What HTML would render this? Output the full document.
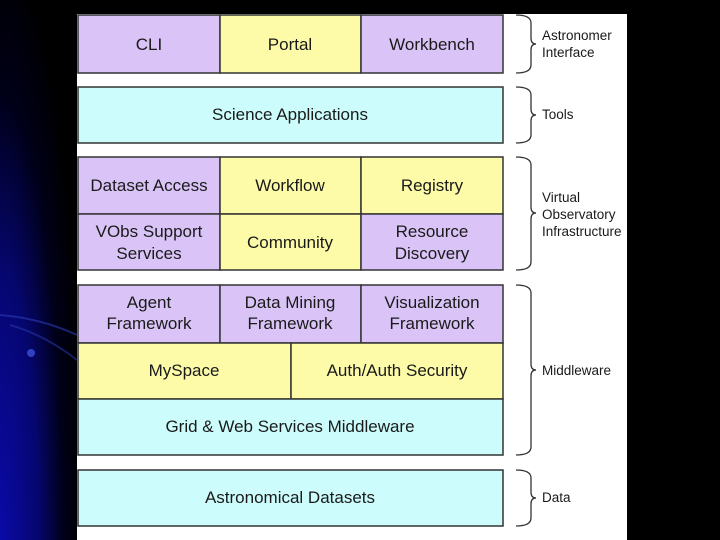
<!DOCTYPE html>
<html><head><meta charset="utf-8"><style>
html,body{margin:0;padding:0;width:720px;height:540px;overflow:hidden;background:#000}
</style></head><body>
<svg width="720" height="540" xmlns="http://www.w3.org/2000/svg" font-family="Liberation Sans, sans-serif">
<defs>
<radialGradient id="bg" cx="0" cy="1" r="1.1">
<stop offset="0" stop-color="#0a0aa8"/>
<stop offset="0.45" stop-color="#060670"/>
<stop offset="0.75" stop-color="#000018"/>
<stop offset="1" stop-color="#000"/>
</radialGradient>
</defs>
<rect x="0" y="0" width="77" height="540" fill="url(#bg)"/>
<path d="M0,315 Q40,318 77,335" stroke="#2a3ab0" stroke-width="2" fill="none" opacity="0.6"/>
<path d="M10,325 Q45,335 77,360" stroke="#2a3ab0" stroke-width="2" fill="none" opacity="0.5"/>
<circle cx="31" cy="353" r="4" fill="#3040c0"/>
<rect x="77" y="14" width="550" height="526" fill="#fff"/>
<g stroke="#333" stroke-width="1.5">
<rect x="78" y="15" width="142" height="58" fill="#dac4f7"/>
<rect x="220" y="15" width="141" height="58" fill="#fdfba8"/>
<rect x="361" y="15" width="142" height="58" fill="#dac4f7"/>
<rect x="78" y="87" width="425" height="56" fill="#ccfcfc"/>
<rect x="78" y="157" width="142" height="57" fill="#dac4f7"/>
<rect x="220" y="157" width="141" height="57" fill="#fdfba8"/>
<rect x="361" y="157" width="142" height="57" fill="#fdfba8"/>
<rect x="78" y="214" width="142" height="56" fill="#dac4f7"/>
<rect x="220" y="214" width="141" height="56" fill="#fdfba8"/>
<rect x="361" y="214" width="142" height="56" fill="#dac4f7"/>
<rect x="78" y="285" width="142" height="58" fill="#dac4f7"/>
<rect x="220" y="285" width="141" height="58" fill="#dac4f7"/>
<rect x="361" y="285" width="142" height="58" fill="#dac4f7"/>
<rect x="78" y="343" width="213" height="56" fill="#fdfba8"/>
<rect x="291" y="343" width="212" height="56" fill="#fdfba8"/>
<rect x="78" y="399" width="425" height="56" fill="#ccfcfc"/>
<rect x="78" y="470" width="425" height="56" fill="#ccfcfc"/>
</g>
<g font-size="17" fill="#1a1a1a" text-anchor="middle">
<text x="149" y="50">CLI</text>
<text x="290" y="50">Portal</text>
<text x="432" y="50">Workbench</text>
<text x="290" y="120">Science Applications</text>
<text x="149" y="191">Dataset Access</text>
<text x="290" y="191">Workflow</text>
<text x="432" y="191">Registry</text>
<text x="149" y="237">VObs  Support</text>
<text x="149" y="259">Services</text>
<text x="290" y="248">Community</text>
<text x="432" y="237">Resource</text>
<text x="432" y="259">Discovery</text>
<text x="149" y="308">Agent</text>
<text x="149" y="329">Framework</text>
<text x="290" y="308">Data Mining</text>
<text x="290" y="329">Framework</text>
<text x="432" y="308">Visualization</text>
<text x="432" y="329">Framework</text>
<text x="184" y="376">MySpace</text>
<text x="397" y="376">Auth/Auth Security</text>
<text x="290" y="432">Grid &amp; Web Services Middleware</text>
<text x="290" y="503">Astronomical Datasets</text>
</g>
<g stroke="#333" stroke-width="1.3" fill="none">
<path d="M516,15 Q531,15 531,23 L531,38 Q531,44 536,44 Q531,44 531,50 L531,65 Q531,73 516,73"/>
<path d="M516,87 Q531,87 531,95 L531,109 Q531,115 536,115 Q531,115 531,121 L531,135 Q531,143 516,143"/>
<path d="M516,157 Q531,157 531,165 L531,207 Q531,213 536,213 Q531,213 531,219 L531,262 Q531,270 516,270"/>
<path d="M516,285 Q531,285 531,293 L531,364 Q531,370 536,370 Q531,370 531,376 L531,447 Q531,455 516,455"/>
<path d="M516,470 Q531,470 531,478 L531,492 Q531,498 536,498 Q531,498 531,504 L531,518 Q531,526 516,526"/>
</g>
<g font-size="13.5" fill="#1a1a1a">
<text x="542" y="40">Astronomer</text>
<text x="542" y="57">Interface</text>
<text x="542" y="119">Tools</text>
<text x="542" y="202">Virtual</text>
<text x="542" y="219">Observatory</text>
<text x="542" y="236">Infrastructure</text>
<text x="542" y="375">Middleware</text>
<text x="542" y="502">Data</text>
</g>
</svg>
</body></html>
